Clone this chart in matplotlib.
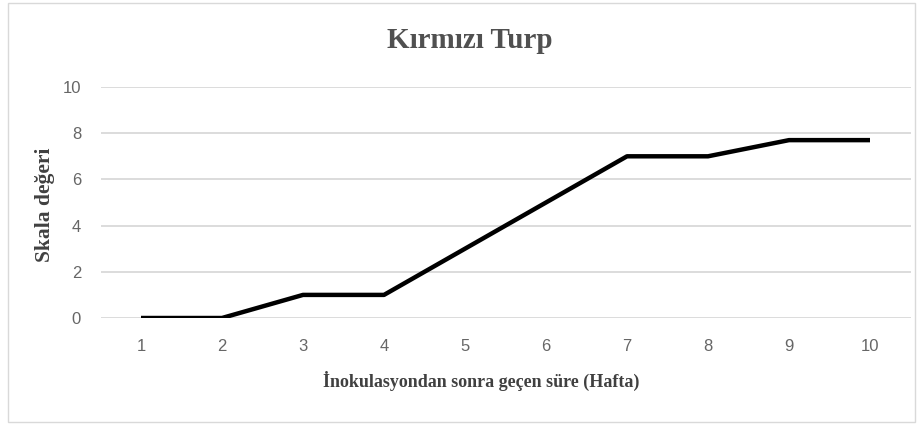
import matplotlib.pyplot as plt
from matplotlib.patches import Rectangle

weeks = [1, 2, 3, 4, 5, 6, 7, 8, 9, 10]
scores = [0, 0, 1, 1, 3, 5, 7, 7, 7.7, 7.7]

title = "Kırmızı Turp"
xlabel = "İnokulasyondan sonra geçen süre (Hafta)"
ylabel = "Skala değeri"

fig = plt.figure(figsize=(9.23, 4.25), dpi=100)
ax = fig.add_axes([100.5 / 923, 107 / 425, 810 / 923, 231 / 425])

ax.plot(weeks, scores, color="black", linewidth=3.2, solid_capstyle="butt", zorder=3)

ax.set_xlim(0.5, 10.5)
ax.set_ylim(0, 10)
ax.set_xticks(weeks)
ax.set_yticks([0, 2, 4, 6, 8, 10])
ax.yaxis.grid(True, color="#d9d9d9", linewidth=1.3)
ax.set_axisbelow(True)
for s in ax.spines.values():
    s.set_visible(False)
ax.tick_params(length=0, labelsize=12, labelcolor="#666666")
ax.tick_params(axis="y", pad=14)
ax.tick_params(axis="x", pad=15)
for lab in ax.get_xticklabels() + ax.get_yticklabels():
    lab.set_family("Liberation Sans")
ax.set_clip_on(False)

fig.text(470 / 923, 1 - 41 / 425, title, ha="center", va="center", family="Liberation Serif",
         fontweight="bold", fontsize=21, color="#505050")
fig.text(481 / 923, 1 - 381 / 425, xlabel, ha="center", va="center",
         family="Liberation Serif", fontweight="bold", fontsize=13, color="#404040")
fig.text(45 / 923, 1 - 205 / 425, ylabel, ha="center", va="center", rotation=90,
         family="Liberation Serif", fontweight="bold", fontsize=15.5, color="#404040")

fig.patches.append(Rectangle((8 / 923, 3 / 425), 907 / 923, 419 / 425,
                             transform=fig.transFigure, fill=False,
                             edgecolor="#d9d9d9", linewidth=1))

fig.savefig("out.png", dpi=100)
